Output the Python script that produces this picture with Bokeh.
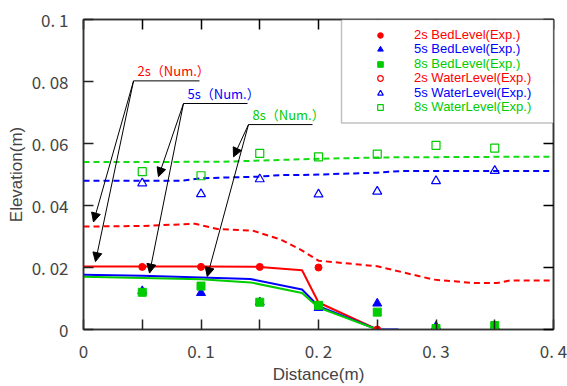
from bokeh.plotting import figure
from bokeh.models import (Range1d, LinearAxis, FixedTicker, Legend, LegendItem,
                          Arrow, NormalHead, BoxAnnotation, Label, CustomLabelingPolicy)
from bokeh.embed import file_html
from bokeh.resources import INLINE

FONT = "Noto Sans CJK JP"
LAT_FONT = "Liberation Sans"
NAN = float("nan")

# ---------------- data ----------------
x_ticks = [0, 0.1, 0.2, 0.3, 0.4]
x_tick_labels = ["0", "0. 1", "0. 2", "0. 3", "0. 4"]
x_minor_ticks = [0.05, 0.15, 0.25, 0.35]
y_ticks = [0, 0.02, 0.04, 0.06, 0.08, 0.1]
y_tick_labels = ["0", "0. 02", "0. 04", "0. 06", "0. 08", "0. 1"]

# numerical results (solid = bed level, dashed = water level)
bed2_num_x = [0, 0.05, 0.1, 0.15, 0.186, 0.2, 0.25]
bed2_num_y = [0.0203, 0.0203, 0.0203, 0.0202, 0.0191, 0.0087, 0.0]
bed5_num_x = [0, 0.05, 0.1, 0.142, 0.186, 0.2, 0.25, 0.268]
bed5_num_y = [0.0177, 0.0173, 0.0168, 0.0163, 0.0129, 0.0075, 0.0, 0.0]
bed8_num_x = [0, 0.05, 0.1, 0.142, 0.186, 0.2, 0.25]
bed8_num_y = [0.0170, 0.0166, 0.0162, 0.0152, 0.0118, 0.0071, 0.0]

wat2_num_x = [0, 0.05, 0.095, 0.114, 0.144, 0.168, 0.185, 0.2, 0.25, 0.298, 0.332, 0.352, 0.363, 0.4]
wat2_num_y = [0.0332, 0.0334, 0.0341, 0.0324, 0.0319, 0.0290, 0.0257, 0.0222, 0.0204, 0.0161, 0.0150, 0.0150, 0.0158, 0.0158]
wat5_num_x = [0, 0.083, 0.1, 0.148, 0.168, 0.185, 0.25, 0.27, 0.4]
wat5_num_y = [0.0480, 0.0480, 0.0488, 0.0493, 0.0498, 0.0498, 0.0506, 0.0511, 0.0511]
wat8_num_x = [0, 0.117, 0.168, 0.185, 0.25, 0.355, 0.4]
wat8_num_y = [0.0540, 0.0541, 0.0547, 0.0549, 0.0555, 0.0557, 0.0557]

# experimental results
exp_x = [0.05, 0.1, 0.15, 0.2, 0.25, 0.3, 0.35]
bed2_exp = [0.0202, 0.0202, 0.0202, 0.0200, 0.0, 0.0, 0.0]
bed5_exp = [0.0124, 0.0118, 0.0088, 0.0070, 0.0084, 0.0010, 0.0010]
bed8_exp = [0.0120, 0.0140, 0.0088, 0.0078, 0.0056, 0.0003, 0.0013]
wat2_exp_x = [0.05]          # no 2s water-level points are visible in the chart
wat2_exp = [NAN]
wat5_exp = [0.0472, 0.0437, 0.0485, 0.0436, 0.0445, 0.0479, 0.0512]
wat8_exp = [0.0509, 0.0496, 0.0568, 0.0557, 0.0566, 0.0594, 0.0585]

legend_labels = ["2s BedLevel(Exp.)", "5s BedLevel(Exp.)", "8s BedLevel(Exp.)",
                 "2s WaterLevel(Exp.)", "5s WaterLevel(Exp.)", "8s WaterLevel(Exp.)"]

# annotation callouts
callout_labels = ["2s\uff08Num.\uff09", "5s\uff08Num.\uff09", "8s\uff08Num.\uff09"]
callout_x0 = [0.0426, 0.0851, 0.1404]
callout_x1 = [0.0987, 0.1396, 0.1949]
callout_y = [0.0802, 0.0729, 0.0661]
callout_targets = [[(0.0085, 0.0347), (0.0102, 0.0219)],
                   [(0.0638, 0.0493), (0.0562, 0.0182)],
                   [(0.1277, 0.0557), (0.1053, 0.0171)]]

RED, BLUE, GREEN = "#FF0000", "#0000FF", "#00CC00"
colors = [RED, BLUE, GREEN]

p = figure(width=567, height=386, x_range=Range1d(0, 0.4), y_range=Range1d(0, 0.1),
           output_backend="svg", toolbar_location=None,
           min_border_left=83, min_border_right=14, min_border_top=19, min_border_bottom=56)
p.xgrid.visible = False
p.ygrid.visible = False
p.outline_line_color = "#333333"
p.outline_line_width = 1.5

for ax, ticks, labels, minor, title, lstand, tstand in [
        (p.xaxis[0], x_ticks, x_tick_labels, x_minor_ticks, "Distance(m)", 8, -1),
        (p.yaxis[0], y_ticks, y_tick_labels, [], "Elevation(m)", 15, 3)]:
    ax.ticker = FixedTicker(ticks=ticks, minor_ticks=minor)
    ax.major_label_overrides = {t: l for t, l in zip(ticks, labels)}
    ax.axis_label = title
    ax.axis_label_text_font = LAT_FONT
    ax.axis_label_text_font_style = "normal"
    ax.axis_label_text_font_size = "17px"
    ax.axis_label_standoff = tstand
    ax.major_label_text_font = FONT
    ax.major_label_text_font_size = "17px"
    ax.major_label_standoff = lstand
    ax.major_tick_in = 10
    ax.major_tick_out = 0
    ax.minor_tick_in = 10
    ax.minor_tick_out = 0
    ax.axis_line_color = "#333333"
    ax.axis_line_width = 1.5
    ax.major_tick_line_color = "#222222"
    ax.minor_tick_line_color = "#222222"
    ax.major_tick_line_width = 1.5
    ax.minor_tick_line_width = 1.5

no_labels = "for (const i of indices) { indices.unset(i) }\nreturn indices"
right = LinearAxis(ticker=FixedTicker(ticks=y_ticks),
                   major_label_policy=CustomLabelingPolicy(code=no_labels),
                   major_label_text_font_size="1px",
                   major_tick_in=10, major_tick_out=0, axis_line_color="#333333",
                   axis_line_width=1.5, major_tick_line_width=1.5, major_label_standoff=0)
p.add_layout(right, "right")
top = LinearAxis(ticker=FixedTicker(ticks=x_ticks, minor_ticks=x_minor_ticks),
                 major_label_policy=CustomLabelingPolicy(code=no_labels),
                 major_label_text_font_size="1px", major_tick_in=10, major_tick_out=0,
                 minor_tick_in=10, minor_tick_out=0, axis_line_color="#333333",
                 axis_line_width=1.5, major_tick_line_width=1.5, minor_tick_line_width=1.5,
                 major_label_standoff=0)
p.add_layout(top, "above")

# numerical lines
for xs, ys, c in [(wat2_num_x, wat2_num_y, RED), (wat5_num_x, wat5_num_y, BLUE),
                  (wat8_num_x, wat8_num_y, "#11DD11")]:
    p.line(xs, ys, line_color=c, line_width=2, line_dash="6 4")
for xs, ys, c in [(bed2_num_x, bed2_num_y, RED), (bed5_num_x, bed5_num_y, BLUE),
                  (bed8_num_x, bed8_num_y, GREEN)]:
    p.line(xs, ys, line_color=c, line_width=2)

# experimental markers
r_bed2 = p.scatter(exp_x, bed2_exp, marker="circle", size=7, color=RED)
r_bed5 = p.scatter(exp_x, bed5_exp, marker="triangle", size=9, color=BLUE)
r_bed8 = p.scatter(exp_x, bed8_exp, marker="square", size=8, color=GREEN)
r_wat2 = p.scatter(wat2_exp_x, wat2_exp, marker="circle", size=7, line_color=RED,
                   fill_color=None, line_width=1.2)
r_wat5 = p.scatter(exp_x, wat5_exp, marker="triangle", size=9, line_color=BLUE,
                   fill_color=None, line_width=1.2)
r_wat8 = p.scatter(exp_x, wat8_exp, marker="square", size=8, line_color=GREEN,
                   fill_color=None, line_width=1.2)

# callouts
for lab, c, x0, x1, y, targets in zip(callout_labels, colors, callout_x0, callout_x1,
                                       callout_y, callout_targets):
    p.add_layout(Arrow(x_start=x0, y_start=y, x_end=x1, y_end=y, end=None,
                       line_color="black", line_width=1))
    for (ex, ey) in targets:
        p.add_layout(Arrow(x_start=x0, y_start=y, x_end=ex, y_end=ey, line_color="black",
                           line_width=1,
                           end=NormalHead(size=9, fill_color="black", line_color="black")))
    p.add_layout(Label(x=x0, y=y, x_offset=4, y_offset=1, text=lab, text_color=c,
                       text_font=FONT, text_font_size="13px", text_baseline="bottom"))

# legend box and one coloured legend per entry
ROW = 14
p.add_layout(BoxAnnotation(left=0.2196, right=0.4, bottom=0.0666, top=0.1,
                           fill_color="white", fill_alpha=1, line_color="#333333",
                           line_width=1.5))
renderers = [r_bed2, r_bed5, r_bed8, r_wat2, r_wat5, r_wat8]
leg_colors = [RED, BLUE, GREEN, RED, BLUE, GREEN]
for i, (lab, r, c) in enumerate(zip(legend_labels, renderers, leg_colors)):
    yc = 36 + 14.4 * i
    leg = Legend(items=[LegendItem(label=lab, renderers=[r])],
                 location=(287, int(round(330 - yc - ROW / 2))), padding=0, margin=0,
                 spacing=0, glyph_width=20, glyph_height=ROW, label_height=ROW,
                 label_standoff=24, border_line_color=None, background_fill_alpha=0,
                 label_text_color=c, label_text_font=LAT_FONT, label_text_font_size="13px")
    p.add_layout(leg)

open("out.html", "w").write(file_html(p, INLINE))
